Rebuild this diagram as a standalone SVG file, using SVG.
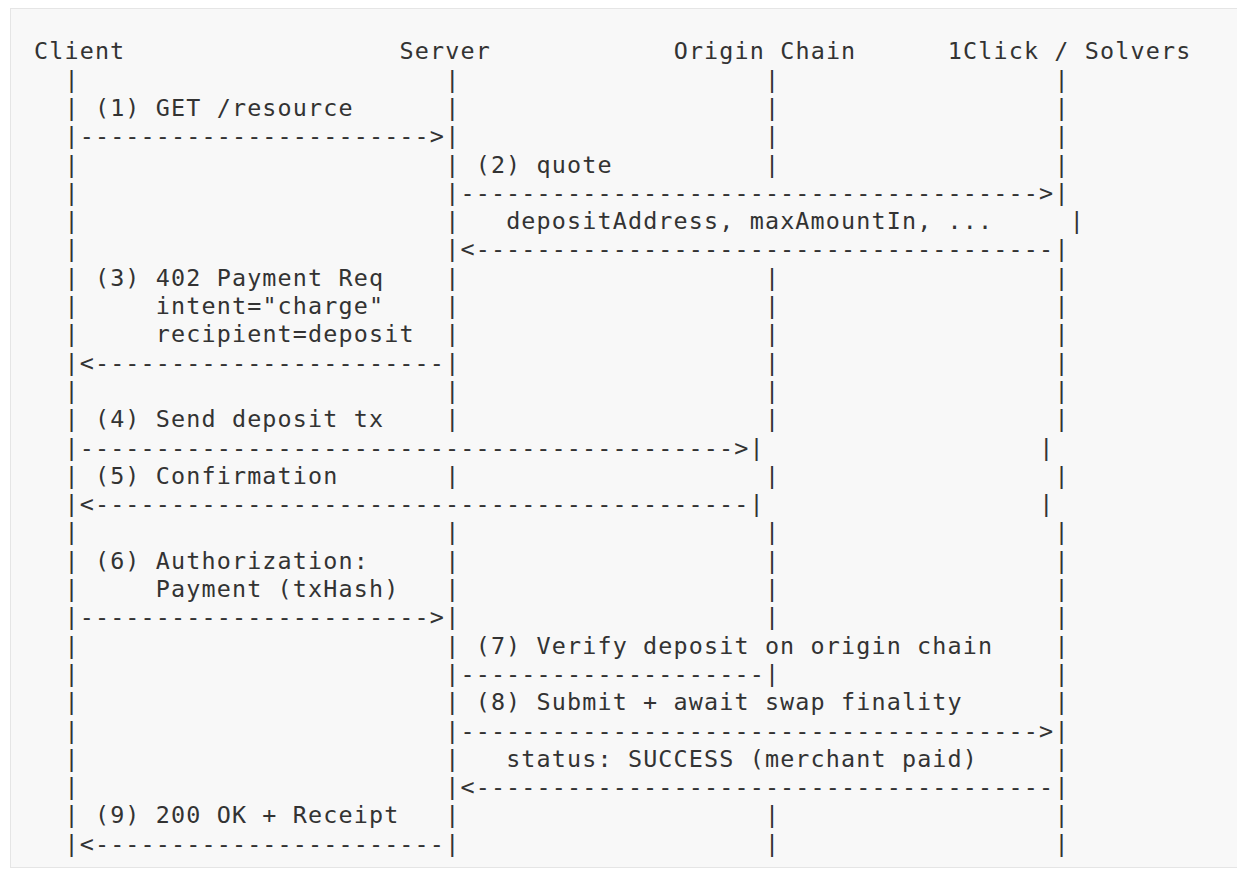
<svg xmlns="http://www.w3.org/2000/svg" width="1237" height="879" viewBox="0 0 1237 879">
<style>
.t{font-family:"DejaVu Sans Mono","Liberation Mono",monospace;font-size:23.4px;letter-spacing:1.14px;fill:#333333}
</style>
<rect x="0" y="0" width="1237" height="879" fill="#ffffff"/>
<rect x="10.5" y="8.5" width="1240" height="859" fill="#f8f8f8" stroke="#e5e5e5" stroke-width="1"/>
<g id="client">
<text class="t" x="34" y="59.3">Client</text>
<text class="t"><tspan x="64.46" y="87.6">|</tspan><tspan x="64.46" y="115.9">|</tspan><tspan x="64.46" y="144.2">|</tspan><tspan x="64.46" y="172.5">|</tspan><tspan x="64.46" y="200.8">|</tspan><tspan x="64.46" y="229.1">|</tspan><tspan x="64.46" y="257.4">|</tspan><tspan x="64.46" y="285.7">|</tspan><tspan x="64.46" y="314.0">|</tspan><tspan x="64.46" y="342.3">|</tspan><tspan x="64.46" y="370.6">|</tspan><tspan x="64.46" y="398.9">|</tspan><tspan x="64.46" y="427.2">|</tspan><tspan x="64.46" y="455.5">|</tspan><tspan x="64.46" y="483.8">|</tspan><tspan x="64.46" y="512.1">|</tspan><tspan x="64.46" y="540.4">|</tspan><tspan x="64.46" y="568.7">|</tspan><tspan x="64.46" y="597.0">|</tspan><tspan x="64.46" y="625.3">|</tspan><tspan x="64.46" y="653.6">|</tspan><tspan x="64.46" y="681.9">|</tspan><tspan x="64.46" y="710.2">|</tspan><tspan x="64.46" y="738.5">|</tspan><tspan x="64.46" y="766.8">|</tspan><tspan x="64.46" y="795.1">|</tspan><tspan x="64.46" y="823.4">|</tspan><tspan x="64.46" y="851.7">|</tspan></text>
</g>
<g id="server">
<text class="t" x="399.52" y="59.3">Server</text>
<text class="t"><tspan x="445.21" y="87.6">|</tspan><tspan x="445.21" y="115.9">|</tspan><tspan x="445.21" y="144.2">|</tspan><tspan x="445.21" y="172.5">|</tspan><tspan x="445.21" y="200.8">|</tspan><tspan x="445.21" y="229.1">|</tspan><tspan x="445.21" y="257.4">|</tspan><tspan x="445.21" y="285.7">|</tspan><tspan x="445.21" y="314.0">|</tspan><tspan x="445.21" y="342.3">|</tspan><tspan x="445.21" y="370.6">|</tspan><tspan x="445.21" y="398.9">|</tspan><tspan x="445.21" y="427.2">|</tspan><tspan x="445.21" y="483.8">|</tspan><tspan x="445.21" y="540.4">|</tspan><tspan x="445.21" y="568.7">|</tspan><tspan x="445.21" y="597.0">|</tspan><tspan x="445.21" y="625.3">|</tspan><tspan x="445.21" y="653.6">|</tspan><tspan x="445.21" y="681.9">|</tspan><tspan x="445.21" y="710.2">|</tspan><tspan x="445.21" y="738.5">|</tspan><tspan x="445.21" y="766.8">|</tspan><tspan x="445.21" y="795.1">|</tspan><tspan x="445.21" y="823.4">|</tspan><tspan x="445.21" y="851.7">|</tspan></text>
</g>
<g id="origin-chain">
<text class="t" x="673.66" y="59.3">Origin Chain</text>
<text class="t"><tspan x="765.04" y="87.6">|</tspan><tspan x="765.04" y="115.9">|</tspan><tspan x="765.04" y="144.2">|</tspan><tspan x="765.04" y="172.5">|</tspan><tspan x="765.04" y="285.7">|</tspan><tspan x="765.04" y="314.0">|</tspan><tspan x="765.04" y="342.3">|</tspan><tspan x="765.04" y="370.6">|</tspan><tspan x="765.04" y="398.9">|</tspan><tspan x="765.04" y="427.2">|</tspan><tspan x="765.04" y="483.8">|</tspan><tspan x="765.04" y="540.4">|</tspan><tspan x="765.04" y="568.7">|</tspan><tspan x="765.04" y="597.0">|</tspan><tspan x="765.04" y="625.3">|</tspan><tspan x="765.04" y="681.9">|</tspan><tspan x="765.04" y="823.4">|</tspan><tspan x="765.04" y="851.7">|</tspan></text>
</g>
<g id="solvers">
<text class="t" x="947.8" y="59.3">1Click / Solvers</text>
<text class="t"><tspan x="1054.41" y="87.6">|</tspan><tspan x="1054.41" y="115.9">|</tspan><tspan x="1054.41" y="144.2">|</tspan><tspan x="1054.41" y="172.5">|</tspan><tspan x="1054.41" y="200.8">|</tspan><tspan x="1069.64" y="229.1">|</tspan><tspan x="1054.41" y="257.4">|</tspan><tspan x="1054.41" y="285.7">|</tspan><tspan x="1054.41" y="314.0">|</tspan><tspan x="1054.41" y="342.3">|</tspan><tspan x="1054.41" y="370.6">|</tspan><tspan x="1054.41" y="398.9">|</tspan><tspan x="1054.41" y="427.2">|</tspan><tspan x="1039.18" y="455.5">|</tspan><tspan x="1054.41" y="483.8">|</tspan><tspan x="1039.18" y="512.1">|</tspan><tspan x="1054.41" y="540.4">|</tspan><tspan x="1054.41" y="568.7">|</tspan><tspan x="1054.41" y="597.0">|</tspan><tspan x="1054.41" y="625.3">|</tspan><tspan x="1054.41" y="653.6">|</tspan><tspan x="1054.41" y="681.9">|</tspan><tspan x="1054.41" y="710.2">|</tspan><tspan x="1054.41" y="738.5">|</tspan><tspan x="1054.41" y="766.8">|</tspan><tspan x="1054.41" y="795.1">|</tspan><tspan x="1054.41" y="823.4">|</tspan><tspan x="1054.41" y="851.7">|</tspan></text>
</g>
<g id="connectors">
<text class="t" x="79.69" y="144.2">-----------------------&gt;</text>
<text class="t" x="460.44" y="200.8">--------------------------------------&gt;</text>
<text class="t" x="460.44" y="257.4">&lt;--------------------------------------</text>
<text class="t" x="79.69" y="370.6">&lt;-----------------------</text>
<text class="t" x="79.69" y="455.5">-------------------------------------------&gt;|</text>
<text class="t" x="79.69" y="512.1">&lt;-------------------------------------------|</text>
<text class="t" x="79.69" y="625.3">-----------------------&gt;</text>
<text class="t" x="460.44" y="681.9">--------------------</text>
<text class="t" x="460.44" y="738.5">--------------------------------------&gt;</text>
<text class="t" x="460.44" y="795.1">&lt;--------------------------------------</text>
<text class="t" x="79.69" y="851.7">&lt;-----------------------</text>
</g>
<g id="labels">
<text class="t" x="94.92" y="115.9">(1) GET /resource</text>
<text class="t" x="475.67" y="172.5">(2) quote</text>
<text class="t" x="506.13" y="229.1">depositAddress, maxAmountIn, ...</text>
<text class="t" x="94.92" y="285.7">(3) 402 Payment Req</text>
<text class="t" x="155.84" y="314.0">intent="charge"</text>
<text class="t" x="155.84" y="342.3">recipient=deposit</text>
<text class="t" x="94.92" y="427.2">(4) Send deposit tx</text>
<text class="t" x="94.92" y="483.8">(5) Confirmation</text>
<text class="t" x="94.92" y="568.7">(6) Authorization:</text>
<text class="t" x="155.84" y="597.0">Payment (txHash)</text>
<text class="t" x="475.67" y="653.6">(7) Verify deposit on origin chain</text>
<text class="t" x="475.67" y="710.2">(8) Submit + await swap finality</text>
<text class="t" x="506.13" y="766.8">status: SUCCESS (merchant paid)</text>
<text class="t" x="94.92" y="823.4">(9) 200 OK + Receipt</text>
</g>
</svg>
